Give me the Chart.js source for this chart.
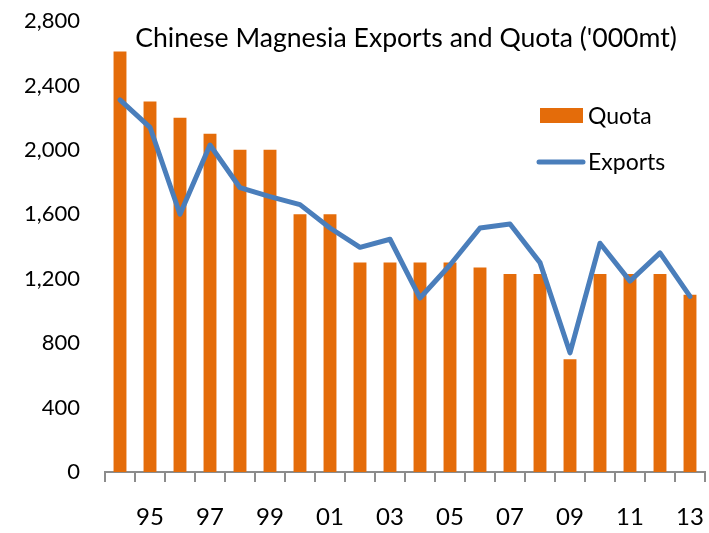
<!DOCTYPE html>
<html>
<head>
<meta charset="utf-8">
<title>Chinese Magnesia Exports and Quota</title>
<script src="https://cdn.jsdelivr.net/npm/chart.js@4.4.1/dist/chart.umd.min.js"></script>
<style>
  html, body { margin: 0; padding: 0; background: #fff; }
  #chart-wrap { width: 709px; height: 533px; }
</style>
</head>
<body>
<div id="chart-wrap"><canvas id="magnesia-chart"></canvas></div>
<script>
// years 1994 - 2013 (two digit labels)
const years = ['94','95','96','97','98','99','00','01','02','03','04','05','06','07','08','09','10','11','12','13'];

// export quota ('000mt)
const quota = [2610, 2300, 2200, 2100, 2000, 2000, 1600, 1600, 1300, 1300, 1300, 1300, 1270, 1230, 1230, 700, 1230, 1230, 1230, 1100];

// actual exports ('000mt)
const exportsData = [2310, 2140, 1600, 2030, 1765, 1710, 1660, 1515, 1395, 1445, 1080, 1285, 1515, 1540, 1300, 740, 1420, 1185, 1360, 1090];

// y axis ticks
const yTicks = [0, 400, 800, 1200, 1600, 2000, 2400, 2800];

const chartTitle = "Chinese Magnesia Exports and Quota ('000mt)";
const orange = '#E46C0A';
const blue = '#4A7EBB';
const axisGrey = '#8C8C8C';
const fontName = 'Lato, Calibri, "Open Sans", sans-serif';

// title and legend sit inside the plot area, so draw them by hand
const insidePlugin = {
    id: 'insideTitleLegend',
    afterDatasetsDraw(chart) {
        const ctx = chart.ctx;
        const area = chart.chartArea;
        ctx.save();
        ctx.fillStyle = '#000';
        ctx.font = '26.6px ' + fontName;
        ctx.textAlign = 'center';
        ctx.textBaseline = 'alphabetic';
        ctx.fillText(chartTitle, (area.left + area.right) / 2 + 1, 47);

        // legend
        const ds = chart.data.datasets;
        const boxX = area.right - 165;
        ctx.font = '23px ' + fontName;
        ctx.textAlign = 'left';
        ctx.textBaseline = 'middle';

        ctx.fillStyle = ds[1].backgroundColor;
        ctx.fillRect(boxX, 108, 43, 15);
        ctx.fillStyle = '#000';
        ctx.fillText(ds[1].label, boxX + 48, 117);

        ctx.strokeStyle = ds[0].borderColor;
        ctx.lineWidth = 5;
        ctx.lineCap = 'round';
        ctx.beginPath();
        ctx.moveTo(boxX - 1, 162);
        ctx.lineTo(boxX + 43, 162);
        ctx.stroke();
        ctx.fillText(ds[0].label, boxX + 48, 163);
        ctx.restore();
    }
};

const magnesiaChart = new Chart(document.getElementById('magnesia-chart').getContext('2d'), {
    type: 'bar',
    data: {
        labels: years,
        datasets: [
            {
                type: 'line',
                label: 'Exports',
                data: exportsData,
                borderColor: blue,
                backgroundColor: blue,
                borderWidth: 5,
                pointRadius: 0,
                tension: 0,
                borderCapStyle: 'round',
                borderJoinStyle: 'round',
                order: 0
            },
            {
                type: 'bar',
                label: 'Quota',
                data: quota,
                backgroundColor: orange,
                categoryPercentage: 1,
                barPercentage: 0.43,
                order: 1
            }
        ]
    },
    options: {
        responsive: true,
        maintainAspectRatio: false,
        animation: false,
        layout: { padding: { top: 21, right: 4, left: 0, bottom: 0 } },
        plugins: {
            legend: { display: false },
            title: { display: false },
            tooltip: { enabled: false }
        },
        scales: {
            x: {
                grid: {
                    display: true,
                    drawOnChartArea: false,
                    drawTicks: true,
                    tickLength: 10,
                    color: axisGrey,
                    lineWidth: 2,
                    offset: true
                },
                border: { display: true, color: axisGrey, width: 2 },
                ticks: {
                    autoSkip: false,
                    maxRotation: 0,
                    padding: 21,
                    color: '#000',
                    font: { family: fontName, size: 24 },
                    callback: (val, i) => (i % 2 === 1 ? years[i] : '')
                },
                afterFit: scale => {
                    scale.height = 61;
                    scale.paddingLeft = 0;
                    scale.paddingRight = 0;
                }
            },
            y: {
                min: 0,
                max: 2800,
                afterBuildTicks: scale => { scale.ticks = yTicks.map(v => ({ value: v })); },
                grid: { display: false, drawTicks: false },
                border: { display: false },
                ticks: {
                    padding: 25,
                    color: '#000',
                    font: { family: fontName, size: 22 },
                    callback: v => v.toLocaleString('en-US')
                },
                afterFit: scale => {
                    scale.width = 105;
                    scale.paddingTop = 0;
                    scale.paddingBottom = 0;
                }
            }
        }
    },
    plugins: [insidePlugin]
});
</script>
</body>
</html>
